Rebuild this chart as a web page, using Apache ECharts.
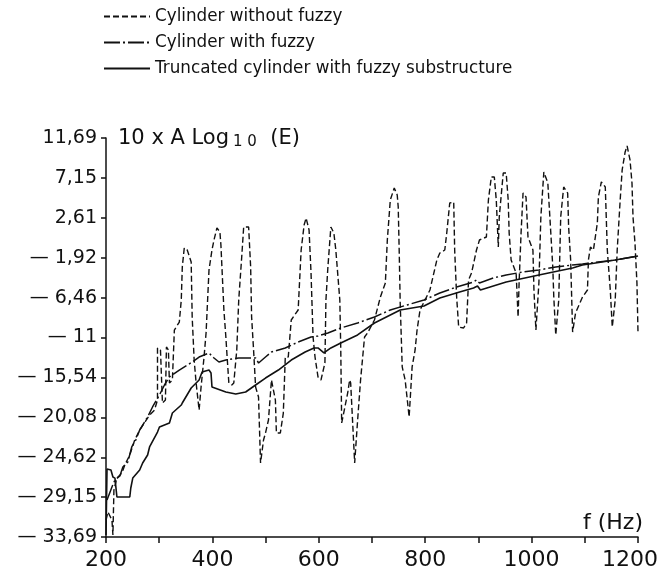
<!DOCTYPE html>
<html>
<head>
<meta charset="utf-8">
<script src="https://cdn.jsdelivr.net/npm/echarts@6/dist/echarts.min.js"></script>
<style>
  html, body { margin: 0; padding: 0; background: #fff; }
  #main { width: 661px; height: 575px; }
</style>
</head>
<body>
<div id="main"></div>
<script>
// tick labels
const yTickValues = [-33.69, -29.15, -24.62, -20.08, -15.54, -11, -6.46, -1.92, 2.61, 7.15, 11.69]
const yTickLabels = ['— 33,69', '— 29,15', '— 24,62', '— 20,08', '— 15,54', '— 11', '— 6,46', '— 1,92', '2,61', '7,15', '11,69']
const xLabelValues = [200, 400, 600, 800, 1000, 1200]

// Cylinder without fuzzy (dashed)
const freqNoFuzzy = [200, 203.7, 207.4, 211.2, 213, 214.9, 220.5, 229.8, 235.4, 244.7, 254, 263.3, 281.9, 291.2, 296.8,
  296.8, 302.4, 306.1, 311.7, 313.6, 317.3, 319.2, 324.8, 328.5, 337.8, 341.5, 343.4, 347.1, 352.7, 360.1, 362, 365.7, 369.4,
  375, 378.7, 384.3, 388.1, 393.6, 399.2, 403, 408.5, 414.1, 416, 417.9, 421.6, 425.3, 427.2, 430.9, 436.5, 440.2, 445.8,
  449.5, 455.1, 458.8, 468.1, 471.9, 473.7, 477.4, 481.2, 486.7, 490.5, 496.1, 499.8, 505.4, 511, 518.4, 520.3, 527.7, 533.3,
  537, 542.6, 548.2, 561.2, 566.8, 572.4, 576.1, 581.7, 585.4, 589.2, 592.9, 598.5, 604.1, 611.5, 613.4, 617.1, 622.7, 628.3,
  632, 639.5, 641.3, 643, 648.7, 654.3, 658, 659.9, 667.4, 673, 678.5, 686, 691.6, 704.6, 715.8, 725.1, 728.8, 734.4, 741.8,
  747.4, 749.3, 751.2, 753, 756.8, 762.3, 769.8, 775.4, 781, 784.7, 790.3, 808.9, 821.9, 827.5, 836.8, 840.5, 846.1, 853.6,
  855.4, 859.1, 862.9, 872.2, 877.8, 881.5, 887.1, 896.4, 902, 915, 918.8, 924.3, 929.9, 933.6, 937.4, 939.2, 946.7, 952.2,
  956, 957.8, 961.5, 970.9, 974.6, 976.5, 980.2, 983.9, 989.5, 993.2, 1002.5, 1004.4, 1008.1, 1013.7, 1017.4, 1023, 1030.5,
  1036.1, 1039.8, 1041.7, 1045.4, 1051, 1054.7, 1060.3, 1067.8, 1069.6, 1073.4, 1077.1, 1082.6, 1095.7, 1105, 1106.8, 1110.6,
  1116.2, 1123.6, 1125.5, 1131.1, 1138.5, 1142.3, 1147.9, 1151.6, 1157.2, 1160.9, 1166.5, 1170.2, 1175.8, 1179.5, 1185,
  1188.7, 1190.6, 1194.3, 1198, 1200]
const valNoFuzzy = [-31.76, -30.85, -30.85, -31.76, -33.46, -28.35, -26.98, -26.41, -25.5, -24.36, -22.66, -21.52, -19.81, -19.25, -18.11,
  -12.19, -12.42, -18.45, -18.11, -12.08, -12.42, -16.17, -15.83, -10.15, -9.24, -6.73, -2.98, -0.82, -1.05, -2.41, -8.67, -13.56, -16.17,
  -19.25, -16.63, -13.22, -10.49, -3.32, -1.05, 0.09, 1.46, 1, -0.48, -2.98, -7.87, -10.94, -12.76, -16.17, -16.4, -16.17, -12.42,
  -6.73, -1.84, 1.57, 1.57, -2.98, -8.67, -12.42, -16.63, -17.77, -25.27, -22.66, -21.86, -20.38, -15.83, -18.11, -21.86, -21.86, -19.59,
  -13.22, -13.22, -9.01, -7.87, -1.05, 1.8, 2.59, 1.23, -3.66, -10.94, -13.22, -15.49, -15.83, -13.9, -6.73, -2.98, 1.57, 0.89,
  -1.05, -6.73, -12.42, -20.72, -19.02, -17.31, -15.83, -16.17, -25.27, -20.38, -15.83, -10.94, -10.49, -9.01, -6.39, -4.8, 0.09, 4.64, 6,
  5.21, 3.84, -1.39, -7.08, -14.35, -15.83, -20.04, -14.35, -12.42, -10.15, -7.87, -5.6, -2.18, -1.39, -1.05, 0.89, 4.3, 4.41,
  -1.05, -6.39, -9.81, -9.92, -9.35, -4.46, -3.66, -1.05, 0.09, 0.43, 4.64, 7.26, 7.26, 4.64, -0.71, 2.71, 7.71, 7.71,
  4.64, 0.89, -2.18, -3.66, -8.67, -4.8, 0.89, 5.43, 4.98, 0.43, -1.05, -5.6, -10.15, -4.8, 2.71, 7.82, 6.57,
  0.89, -2.98, -6.39, -10.72, -6.73, 2.71, 6.12, 5.43, 1.57, -2.18, -10.38, -8.21, -6.39, -5.6, -2.18, -0.71,
  -1.05, 2.02, 4.98, 6.69, 6.12, -1.05, -5.6, -9.81, -6.73, -1.05, 4.64, 8.05, 10.1, 10.78, 9.19,
  6.57, 2.71, -0.25, -4.8, -10.49]

// Cylinder with fuzzy (dash-dot)
const freqFuzzy = [201.9, 211.2, 216.8, 226.1, 231.7, 241, 248.4, 255.9, 263.3, 278.2, 287.5, 300.5, 309.9, 319.2, 337.8, 362, 375,
  393.6, 403, 412.3, 425.3, 449.5, 481.2, 486.8, 499.8, 511, 537, 561.2, 585.4, 598.5, 617.1, 641.3, 672.9, 704.6, 734.4, 766,
  797.7, 827.5, 859.1, 890.8, 896.4, 902, 928, 952.2, 983.9, 1013.7, 1045.3, 1077, 1095.6, 1157.1, 1200]
const valFuzzy = [-29.48, -28, -27.21, -26.75, -25.73, -25.16, -23.45, -22.66, -21.52, -20.04, -18.9, -17.54, -16.4, -15.49, -14.7, -13.79, -13.22,
  -12.76, -13.33, -13.79, -13.56, -13.33, -13.33, -13.9, -13.22, -12.65, -12.19, -11.51, -10.94, -10.83, -10.49, -9.92, -9.35, -8.67, -7.87, -7.3,
  -6.73, -5.94, -5.25, -4.69, -4.46, -4.8, -4.23, -3.89, -3.55, -3.32, -2.98, -2.75, -2.64, -2.18, -1.73]

// Truncated cylinder with fuzzy substructure (solid)
const freqTrunc = [200, 201.9, 209.3, 213, 216.8, 220.5, 244.7, 246.6, 250.3, 263.3, 268.9, 278.2, 281.9, 296.8, 300.5, 319.2, 324.8,
  341.5, 343.4, 360.1, 375, 380.6, 393.6, 397.4, 399.2, 425.3, 443.9, 462.5, 481.2, 499.8, 524, 548.2, 574.3, 591, 598.5, 609.6,
  622.7, 641.3, 672.9, 704.6, 753, 797.7, 827.5, 864.7, 890.8, 898.3, 903.8, 952.2, 1013.7, 1077, 1095.6, 1157.1, 1200]
const valTrunc = [-33.46, -25.96, -26.07, -26.87, -26.99, -29.14, -29.14, -28.12, -26.99, -26.07, -25.27, -24.36, -23.45, -21.75, -21.18, -20.72, -19.59,
  -18.68, -18.45, -16.74, -15.83, -14.92, -14.7, -15.04, -16.63, -17.2, -17.43, -17.2, -16.4, -15.61, -14.7, -13.56, -12.65, -12.19, -12.19, -12.76,
  -12.19, -11.62, -10.71, -9.35, -7.87, -7.42, -6.51, -5.82, -5.37, -5.14, -5.6, -4.69, -3.89, -3.09, -2.75, -2.18, -1.73]

function pairs(xs, ys) {
  return xs.map((x, i) => [x, ys[i]])
}

const chart = echarts.init(document.getElementById('main'), null, { renderer: 'canvas' })
const ink = '#111'
const option = {
  animation: false,
  backgroundColor: '#fff',
  legend: {
    orient: 'vertical',
    left: 98,
    top: 3,
    itemWidth: 46,
    itemHeight: 10,
    itemGap: 9,
    itemStyle: { opacity: 0, borderWidth: 0 },
    textStyle: { fontFamily: 'DejaVu Sans', fontSize: 16.8, color: ink },
    data: ['Cylinder without fuzzy', 'Cylinder with fuzzy', 'Truncated cylinder with fuzzy substructure'],
  },
  grid: { left: 106, right: 18, top: 138, bottom: 38 },
  xAxis: {
    type: 'value',
    position: 'bottom',
    min: 200,
    max: 1200,
    interval: 100,
    splitLine: { show: false },
    axisLine: { onZero: false, lineStyle: { color: ink, width: 1.5 } },
    axisTick: { inside: false, length: 6, lineStyle: { color: ink, width: 1.5 } },
    axisLabel: {
      margin: 12,
      color: ink,
      fontFamily: 'DejaVu Sans',
      fontSize: 22,
      formatter: v => {
        if (xLabelValues.indexOf(v) < 0) return ''
        return v === 1200 ? '{e|1200}' : String(v)
      },
      rich: { e: { fontFamily: 'DejaVu Sans', fontSize: 22, color: ink, padding: [0, 16, 0, 0] } },
    },
  },
  yAxis: {
    type: 'value',
    min: -33.69,
    max: 11.69,
    splitLine: { show: false },
    axisLine: { onZero: false, lineStyle: { color: ink, width: 1.5 } },
    axisTick: { inside: false, length: 5, customValues: yTickValues, lineStyle: { color: ink, width: 1.5 } },
    axisLabel: {
      margin: 9,
      color: ink,
      fontFamily: 'DejaVu Sans',
      fontSize: 19,
      customValues: yTickValues,
      formatter: v => {
        let best = 0
        yTickValues.forEach((t, i) => { if (Math.abs(t - v) < Math.abs(yTickValues[best] - v)) best = i })
        return yTickLabels[best]
      },
    },
  },
  graphic: [
    {
      type: 'text',
      left: 118,
      top: 128,
      style: {
        text: '{n|10 x A Log}{s|1 0}{n|  (E)}',
        rich: {
          n: { fontFamily: 'DejaVu Sans', fontSize: 21, fill: ink },
          s: { fontFamily: 'DejaVu Sans', fontSize: 15, fill: ink, padding: [8, 0, 0, 4] },
        },
      },
    },
    {
      type: 'text',
      right: 18,
      top: 512,
      style: { text: 'f (Hz)', fontFamily: 'DejaVu Sans', fontSize: 22, fill: ink },
    },
  ],
  series: [
    {
      name: 'Cylinder without fuzzy',
      type: 'line',
      symbol: 'none',
      showSymbol: false,
      lineStyle: { color: ink, width: 1.4, type: [6, 3] },
      itemStyle: { color: ink },
      data: pairs(freqNoFuzzy, valNoFuzzy),
    },
    {
      name: 'Cylinder with fuzzy',
      type: 'line',
      symbol: 'none',
      showSymbol: false,
      lineStyle: { color: ink, width: 1.5, type: [16, 3, 2, 3] },
      itemStyle: { color: ink },
      data: pairs(freqFuzzy, valFuzzy),
    },
    {
      name: 'Truncated cylinder with fuzzy substructure',
      type: 'line',
      symbol: 'none',
      showSymbol: false,
      lineStyle: { color: ink, width: 1.6 },
      itemStyle: { color: ink },
      data: pairs(freqTrunc, valTrunc),
    },
  ],
}
option && chart.setOption(option)
</script>
</body>
</html>
